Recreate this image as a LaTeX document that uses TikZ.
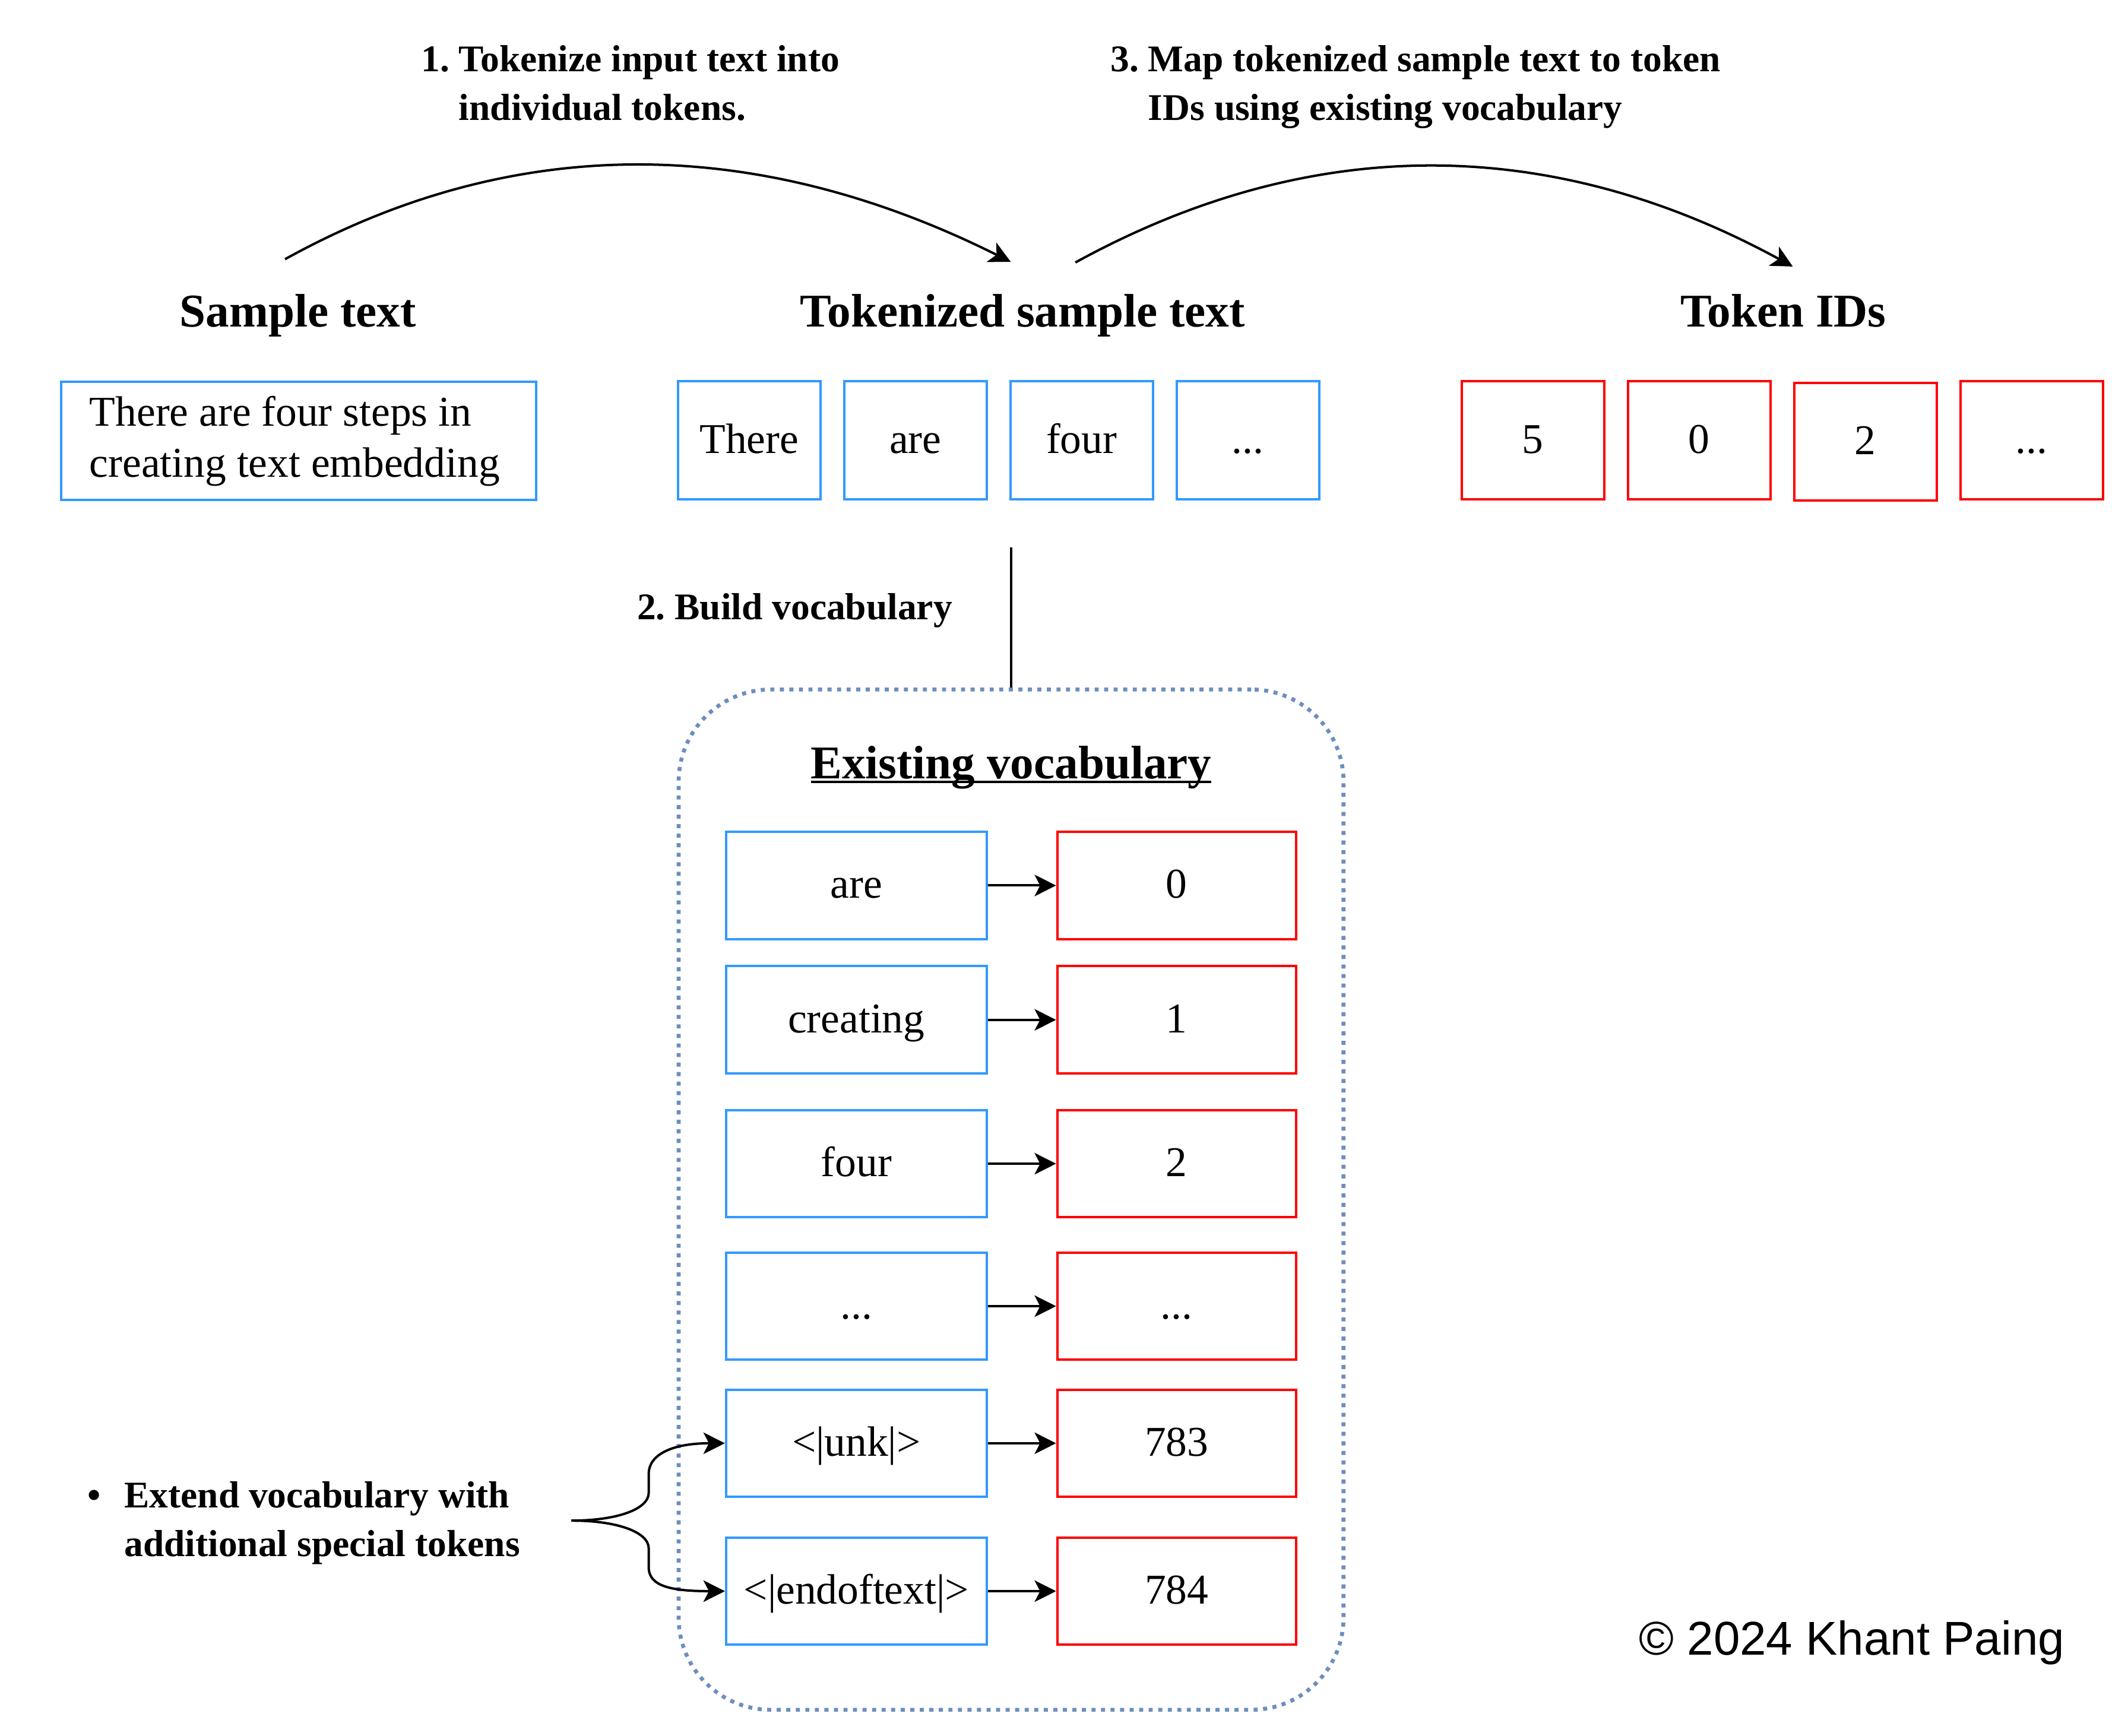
\documentclass[tikz,border=0pt]{standalone}
\usepackage{fontspec}
\setmainfont{Liberation Serif}
\newfontfamily\copyfont{Liberation Sans}
\usetikzlibrary{arrows.meta}
\definecolor{tokblue}{RGB}{51,153,255}
\definecolor{idred}{RGB}{255,0,0}
\definecolor{dotblue}{HTML}{6C8EBF}
\newcommand\myul[1]{\setbox0\hbox{#1}\rlap{\rule[-1.9pt]{\wd0}{1pt}}\box0}
\begin{document}
\begin{tikzpicture}[x=0.02cm,y=-0.02cm,
  tokbox/.style={draw=tokblue,line width=1pt,minimum width=2.1cm,minimum height=1.74cm,inner sep=0pt,text height=12.1pt,text depth=1.4pt,font=\fontsize{17.8}{21.5}\selectfont},
  idbox/.style={tokbox,draw=idred},
  vtok/.style={tokbox,minimum width=3.84cm,minimum height=1.58cm},
  vid/.style={vtok,draw=idred,minimum width=3.52cm},
  heading/.style={font=\bfseries\fontsize{19.7}{23}\selectfont,anchor=base,inner sep=0pt},
  steplabel/.style={font=\bfseries\fontsize{15.8}{20.5}\selectfont,inner sep=0pt},
  conn/.style={line width=1pt,-{Stealth[length=9pt,width=9pt,inset=2.3pt]}},
]
\fill[white] (0,0) rectangle (1568,1279);
\useasboundingbox (0,0) rectangle (1568,1279);

% step labels
\node[steplabel,anchor=base west] (s1) at (310,52.7)
  {\begin{tabular}[t]{@{}l@{\ }l@{}}1. & Tokenize input text into\\ & individual tokens.\end{tabular}};
\node[steplabel,anchor=base west] (s3) at (818,52.7)
  {\begin{tabular}[t]{@{}l@{\ }l@{}}3. & Map tokenized sample text to token\\ & IDs using existing vocabulary\end{tabular}};
\node[steplabel,anchor=base east] (s2) at (702,456.4) {2.\ Build vocabulary};

% arcs
\coordinate (a1s) at (210,191);
\coordinate (a1e) at (744.8,193);
\draw[conn] (a1s) .. controls (377.9,98.1) and (556.1,98.7) .. (a1e);
\coordinate (a3s) at (792.4,193.4);
\coordinate (a3e) at (1321,196.4);
\draw[conn] (a3s) .. controls (966.1,98.0) and (1142.3,99.0) .. (a3e);

% headings
\node[heading] (hs) at (219.5,241) {Sample text};
\node[heading] (ht) at (753.5,241) {Tokenized sample text};
\node[heading] (hi) at (1314,241) {Token IDs};

% sample text box
\node[draw=tokblue,line width=1pt,text width=6.16cm,inner xsep=0.42cm,inner ysep=0pt,minimum height=1.74cm,align=flush left,font=\fontsize{17.8}{21.5}\selectfont] (sample) at (220,325)
  {There are four steps in\\creating text embedding};

% tokens
\node[tokbox] (t1) at (552,324.5) {There};
\node[tokbox] (t2) at (674.5,324.5) {are};
\node[tokbox] (t3) at (797,324.5) {four};
\node[tokbox] (t4) at (919.5,324.5) {...};

% ids
\node[idbox] (d1) at (1129.5,324.5) {5};
\node[idbox] (d2) at (1252,324.5) {0};
\node[idbox] (d3) at (1374.5,325.5) {2};
\node[idbox] (d4) at (1497,324.5) {...};

% vocabulary container
\node[draw=dotblue,line width=1.65pt,dash pattern=on 1.7pt off 2.3pt,rounded corners=1.36cm,minimum width=9.8cm,minimum height=15.04cm,inner sep=0pt] (vocab) at (745,884) {};
\coordinate (vtop) at (745,403.4);
\draw[line width=1pt] (vtop) -- (vocab.north);

\node[heading] (evt) at (745,573.6) {\myul{Existing vocabulary}};

\node[vtok] (v1) at (631,652.5) {are};
\node[vid]  (i1) at (867,652.5) {0};
\node[vtok] (v2) at (631,751.5) {creating};
\node[vid]  (i2) at (867,751.5) {1};
\node[vtok] (v3) at (631,857.5) {four};
\node[vid]  (i3) at (867,857.5) {2};
\node[vtok] (v4) at (631,962.5) {...};
\node[vid]  (i4) at (867,962.5) {...};
\node[vtok] (v5) at (631,1063.5) {<|unk|>};
\node[vid]  (i5) at (867,1063.5) {783};
\node[vtok] (v6) at (631,1172.5) {<|endoftext|>};
\node[vid]  (i6) at (867,1172.5) {784};

\foreach \k in {1,...,6} {\draw[conn] (v\k.east) -- (i\k.west);}

% extend label
\node[steplabel,anchor=base west] (ext) at (64,1111)
  {\begin{tabular}[t]{@{}l@{\hspace{10pt}}l@{}}\textbullet & Extend vocabulary with\\ & additional special tokens\end{tabular}};
\coordinate (brace) at (421,1120.5);
\draw[conn] (brace) .. controls (455,1120.5) and (478,1112) .. (478,1100) -- (478,1086) .. controls (478,1072) and (495,1063.5) .. (v5.west);
\draw[conn] (brace) .. controls (455,1120.5) and (478,1129) .. (478,1141) -- (478,1155) .. controls (478,1169) and (495,1172.5) .. (v6.west);

% copyright
\node[font=\copyfont\fontsize{19.9}{23}\selectfont,anchor=base,inner sep=0pt] (copy) at (1364.5,1219.5) {© 2024 Khant Paing};
\end{tikzpicture}
\end{document}
